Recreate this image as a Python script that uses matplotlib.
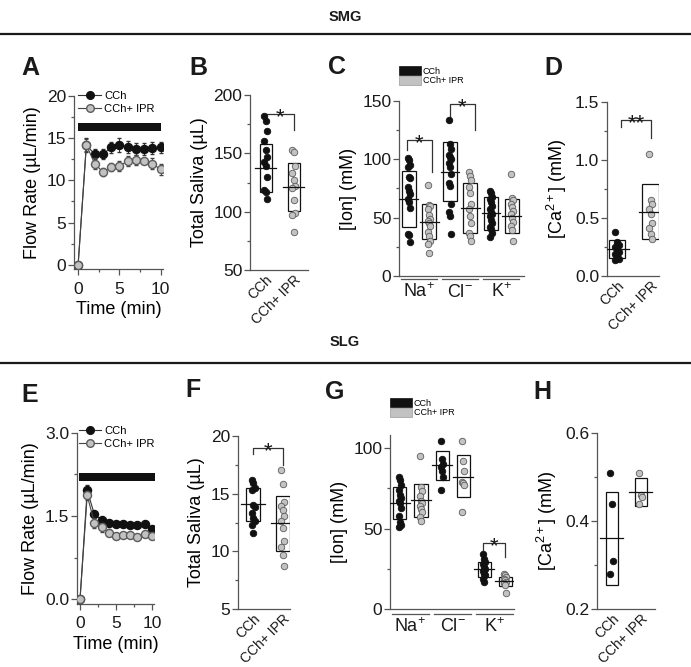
import matplotlib.pyplot as plt
from matplotlib.lines import Line2D
from matplotlib.patches import Patch
from matplotlib.ticker import MultipleLocator

plt.rcParams['font.family'] = ['Liberation Sans', 'DejaVu Sans']
plt.rcParams['mathtext.fontset'] = 'custom'
plt.rcParams['mathtext.rm'] = 'Liberation Sans'
plt.rcParams['mathtext.it'] = 'Liberation Sans:italic'
plt.rcParams['mathtext.bf'] = 'Liberation Sans:bold'

W, H = 691, 667
DARK = '#111111'
LIGHT = '#c2c2c2'
RIM = '#5c5c5c'
AXIS = '#555555'
TEXT = '#1a1a1a'

groups = ['CCh', 'CCh+ IPR']
ions = ['Na$^{+}$', 'Cl$^{-}$', 'K$^{+}$']

# ---------------- SMG ----------------
time_min = [0, 1, 2, 3, 4, 5, 6, 7, 8, 9, 10]
smg_flow_cch = [0, 14.2, 13.1, 13.1, 13.9, 14.2, 14.0, 13.7, 13.7, 13.8, 13.9]
smg_flow_cch_err = [0, 0.8, 0.6, 0.6, 0.7, 0.8, 0.7, 0.7, 0.7, 0.7, 0.7]
smg_flow_ipr = [0, 14.2, 12.0, 11.0, 11.6, 11.7, 12.3, 12.4, 12.3, 12.0, 11.3]
smg_flow_ipr_err = [0, 0.7, 0.6, 0.5, 0.5, 0.6, 0.6, 0.6, 0.4, 0.6, 0.7]
smg_stim = [0, 10.1]

smg_saliva = [
    [182, 178, 169, 161, 153, 147, 143, 139, 130, 119, 117, 111],
    [153, 151, 139, 133, 127, 122, 120, 110, 99, 97, 83],
]
smg_saliva_lo = [117, 100.6]
smg_saliva_hi = [157.7, 141.4]
smg_saliva_mean = [137.6, 121]

# order: Na CCh, Na IPR, Cl CCh, Cl IPR, K CCh, K IPR
smg_ion = [
    [101, 99, 95, 93, 85, 84, 76, 73, 70, 66, 63, 58, 36, 35, 29],
    [78, 61, 60, 57, 52, 49, 47, 45, 43, 38, 34, 30, 27, 20],
    [134, 113, 109, 104, 102, 100, 97, 93, 87, 80, 77, 62, 55, 51, 36],
    [89, 86, 82, 76, 71, 62, 57, 51, 45, 37, 34, 30],
    [73, 71, 68, 66, 63, 60, 57, 55, 53, 51, 48, 45, 42, 40, 37, 33],
    [87, 67, 65, 62, 59, 56, 53, 50, 46, 43, 39, 30],
]
smg_ion_lo = [42.2, 31.4, 64.2, 36.5, 39.3, 37.0]
smg_ion_hi = [89.8, 61.3, 115.0, 80.0, 67.6, 66.0]
smg_ion_mean = [66.4, 46.5, 89.3, 58.5, 53.6, 51.6]

smg_ca = [
    [0.38, 0.29, 0.27, 0.25, 0.23, 0.21, 0.19, 0.17, 0.15, 0.14],
    [1.05, 0.65, 0.62, 0.58, 0.53, 0.46, 0.41, 0.36, 0.32],
]
smg_ca_lo = [0.152, 0.315]
smg_ca_hi = [0.31, 0.789]
smg_ca_mean = [0.229, 0.553]

# ---------------- SLG ----------------
slg_flow_cch = [0, 1.96, 1.53, 1.43, 1.38, 1.36, 1.35, 1.34, 1.33, 1.35, 1.26]
slg_flow_cch_err = [0, 0.10, 0.05, 0.04, 0.04, 0.04, 0.04, 0.04, 0.04, 0.04, 0.04]
slg_flow_ipr = [0, 1.87, 1.38, 1.30, 1.20, 1.14, 1.16, 1.16, 1.13, 1.18, 1.14]
slg_flow_ipr_err = [0, 0.08, 0.09, 0.08, 0.06, 0.05, 0.05, 0.05, 0.05, 0.05, 0.05]
slg_stim = [-0.1, 10.5]

slg_saliva = [
    [16.2, 15.9, 15.5, 15.3, 14.0, 13.8, 13.3, 12.9, 12.6, 12.3, 11.6],
    [17.0, 15.8, 14.3, 13.9, 13.6, 13.1, 12.6, 12.0, 10.9, 10.4, 9.7, 8.7],
]
slg_saliva_lo = [12.66, 10.07]
slg_saliva_hi = [15.45, 14.82]
slg_saliva_mean = [14.07, 12.43]

slg_ion = [
    [82, 80, 77, 74, 71, 69, 67, 66, 63, 58, 54, 52, 51],
    [95, 76, 73, 70, 67, 66, 64, 62, 60, 57, 55],
    [104, 93, 90, 88, 86, 82, 74],
    [104, 92, 86, 79, 78, 77, 60],
    [34, 31, 29, 28, 26, 25, 24, 22, 21, 19, 17],
    [22, 21, 20, 19, 18, 17, 16, 15, 10],
]
slg_ion_lo = [55.7, 57.3, 80.0, 69.3, 19.8, 14.4]
slg_ion_hi = [75.9, 77.5, 98.1, 95.5, 29.1, 20.2]
slg_ion_mean = [65.6, 67.6, 89.3, 82.0, 24.7, 17.5]

slg_ca = [
    [0.51, 0.44, 0.31, 0.28],
    [0.51, 0.46, 0.455, 0.44],
]
slg_ca_lo = [0.255, 0.435]
slg_ca_hi = [0.467, 0.499]
slg_ca_mean = [0.361, 0.466]


def px_axes(fig, left, top, right, bottom):
    return fig.add_axes([left / W, 1 - bottom / H, (right - left) / W, (bottom - top) / H])


def style(ax, major, minor):
    for s in ['top', 'right']:
        ax.spines[s].set_visible(False)
    for s in ['left', 'bottom']:
        ax.spines[s].set_color(AXIS)
        ax.spines[s].set_linewidth(0.9)
    ax.yaxis.set_major_locator(MultipleLocator(major))
    ax.yaxis.set_minor_locator(MultipleLocator(minor))
    ax.tick_params(direction='out', length=4, width=0.9, color=AXIS,
                   labelsize=12.5, labelcolor=TEXT, pad=1.5)
    ax.tick_params(which='minor', length=2.5, width=0.9, color=AXIS)


def time_panel(ax, cch, cch_err, ipr, ipr_err, stim, bar_lo, bar_hi, legend_anchor):
    ax.errorbar(time_min, cch, yerr=cch_err, fmt='-o', color='#333333', mfc=DARK, mec=DARK,
                ms=5.8, lw=0.8, elinewidth=0.7, capsize=1.5, zorder=3)
    ax.errorbar(time_min, ipr, yerr=ipr_err, fmt='-o', color='#444444', mfc=LIGHT, mec=RIM,
                ms=5.8, lw=0.8, elinewidth=0.7, capsize=1.5, zorder=4)
    ax.fill_between(stim, bar_lo, bar_hi, color=DARK, lw=0, zorder=2)
    ax.xaxis.set_major_locator(MultipleLocator(5))
    ax.xaxis.set_minor_locator(MultipleLocator(2.5))
    ax.tick_params(axis='x', pad=5)
    ax.set_xlabel('Time (min)', fontsize=13, labelpad=3)
    ax.set_ylabel('Flow Rate (µL/min)', fontsize=13)
    handles = [Line2D([], [], color='#333333', marker='o', mfc=DARK, mec=DARK, ms=5.5, lw=0.8),
               Line2D([], [], color='#444444', marker='o', mfc=LIGHT, mec=RIM, ms=5.5, lw=0.8)]
    ax.legend(handles, groups, loc='upper left', bbox_to_anchor=legend_anchor, frameon=False,
              fontsize=8, handlelength=2.0, handletextpad=0.3, borderpad=0, borderaxespad=0,
              labelspacing=0.25)


def dot_panel(ax, pos, dots, lo, hi, mean, box_w, line_w):
    for i, (p, vals, a, b, m) in enumerate(zip(pos, dots, lo, hi, mean)):
        fc, ec = (DARK, DARK) if i % 2 == 0 else (LIGHT, RIM)
        ax.bar(p, b - a, bottom=a, width=box_w, fill=False, edgecolor=DARK, linewidth=0.9, zorder=2)
        ax.plot([p - line_w / 2, p + line_w / 2], [m, m], color=DARK, lw=0.9, zorder=4)
        offs = [((j % 3) - 1) * 0.05 for j in range(len(vals))]
        ax.scatter([p + o for o in offs], vals, s=22, color=fc, edgecolors=ec,
                   linewidths=0.6, zorder=3)


def bracket(ax, x0, x1, top, left_end, right_end, mark):
    ax.plot([x0, x0, x1, x1], [left_end, top, top, right_end], color='#333333', lw=0.9)
    ax.annotate(mark, xy=((x0 + x1) / 2, top), xytext=(0, -6.5), textcoords='offset points',
                ha='center', va='baseline', fontsize=16, color=TEXT)


def group_ticks(ax, labels):
    ax.set_xticks([0, 1])
    ax.set_xticklabels(labels, rotation=45, ha='right', rotation_mode='anchor', fontsize=10)
    ax.tick_params(axis='x', length=0, pad=2)


def ion_axis(ax, line_y, text_y):
    ax.set_xticks([])
    tr = ax.get_xaxis_transform()
    for k, lab in enumerate(ions):
        c = 2 * k + 0.5
        ax.plot([c - 0.88, c + 0.88], [line_y, line_y], transform=tr, clip_on=False,
                color=AXIS, lw=0.9)
        ax.text(c, text_y, lab, transform=tr, ha='center', va='center', fontsize=13, color=TEXT)
    ax.set_ylabel('[Ion] (mM)', fontsize=13)
    handles = [Patch(facecolor=DARK, edgecolor=DARK, lw=0.5),
               Patch(facecolor=LIGHT, edgecolor='#9a9a9a', lw=0.5)]
    return handles


ion_pos = [0, 1, 2, 3, 4, 5]

fig = plt.figure(figsize=(W / 100, H / 100), dpi=100)

# header bars
for y, title in [(17, 'SMG'), (342, 'SLG')]:
    fig.text(345 / W, 1 - y / H, title, ha='center', va='center', fontsize=10.5,
             fontweight='bold', color=TEXT)
for y in [34, 363]:
    fig.add_artist(Line2D([0, 1], [1 - y / H, 1 - y / H], color='#1a1a1a', lw=1.6))

for x, y, letter in [(30, 68, 'A'), (198, 68, 'B'), (337, 67, 'C'), (553, 68, 'D'),
                     (30, 395, 'E'), (193, 390, 'F'), (335, 392, 'G'), (542, 392, 'H')]:
    fig.text(x / W, 1 - y / H, letter, ha='center', va='center', fontsize=18,
             fontweight='bold', color=TEXT)

# A
ax = px_axes(fig, 74, 96, 163, 269)
style(ax, 5, 2.5)
time_panel(ax, smg_flow_cch, smg_flow_cch_err, smg_flow_ipr, smg_flow_ipr_err,
           smg_stim, 15.8, 16.8, (0.05, 1.03))
ax.set_xlim(-0.5, 10.3)
ax.set_ylim(-0.5, 20)

# B
ax = px_axes(fig, 250, 95, 308, 270)
style(ax, 50, 25)
dot_panel(ax, [0, 1], smg_saliva, smg_saliva_lo, smg_saliva_hi, smg_saliva_mean, 0.42, 0.75)
bracket(ax, 0, 1, 184, 178, 170, '*')
group_ticks(ax, groups)
ax.set_xlim(-0.55, 1.5)
ax.set_ylim(50, 200)
ax.set_ylabel('Total Saliva (µL)', fontsize=13)

# C
ax = px_axes(fig, 399, 101, 524, 276)
style(ax, 50, 25)
dot_panel(ax, ion_pos, smg_ion, smg_ion_lo, smg_ion_hi, smg_ion_mean, 0.68, 0.9)
bracket(ax, -0.1, 1.15, 116.3, 108, 89, '*')
bracket(ax, 2.0, 3.2, 147.7, 136, 125.5, '*')
h = ion_axis(ax, -0.017, -0.092)
ax.legend(h, groups, loc='upper left', bbox_to_anchor=(0.0, 1.2), frameon=False, fontsize=6.5,
          handlelength=2.4, handleheight=1.2, handletextpad=0.25, labelspacing=0.0,
          borderpad=0, borderaxespad=0)
ax.set_xlim(-0.47, 5.6)
ax.set_ylim(0, 150)

# D
ax = px_axes(fig, 607, 101.7, 659, 276)
style(ax, 0.5, 0.25)
dot_panel(ax, [0, 1], smg_ca, smg_ca_lo, smg_ca_hi, smg_ca_mean, 0.5, 0.72)
bracket(ax, 0.13, 1.0, 1.342, 1.28, 1.19, '**')
group_ticks(ax, groups)
ax.yaxis.set_major_formatter(plt.FormatStrFormatter('%.1f'))
ax.set_xlim(-0.3, 1.25)
ax.set_ylim(0, 1.5)
ax.set_ylabel('[Ca$^{2+}$] (mM)', fontsize=13)

# E
ax = px_axes(fig, 77, 432.7, 154, 604)
style(ax, 1.5, 0.75)
time_panel(ax, slg_flow_cch, slg_flow_cch_err, slg_flow_ipr, slg_flow_ipr_err,
           slg_stim, 2.125, 2.27, (0.02, 1.04))
ax.yaxis.set_major_formatter(plt.FormatStrFormatter('%.1f'))
ax.set_xlim(-0.42, 10.3)
ax.set_ylim(-0.085, 3.0)

# F
ax = px_axes(fig, 238, 435.7, 290, 609.3)
style(ax, 5, 2.5)
dot_panel(ax, [0, 1], slg_saliva, slg_saliva_lo, slg_saliva_hi, slg_saliva_mean, 0.48, 0.82)
bracket(ax, 0, 1, 18.9, 18.4, 17.47, '*')
group_ticks(ax, groups)
ax.set_xlim(-0.51, 1.25)
ax.set_ylim(5, 20)
ax.set_ylabel('Total Saliva (µL)', fontsize=13)

# G
ax = px_axes(fig, 390, 435, 514, 609.3)
style(ax, 50, 25)
dot_panel(ax, ion_pos, slg_ion, slg_ion_lo, slg_ion_hi, slg_ion_mean, 0.62, 0.95)
bracket(ax, 3.92, 4.97, 40.8, 36.7, 32.6, '*')
h = ion_axis(ax, -0.029, -0.1)
ax.legend(h, groups, loc='upper left', bbox_to_anchor=(0.0, 1.212), frameon=False, fontsize=6.5,
          handlelength=2.4, handleheight=1.2, handletextpad=0.25, labelspacing=0.0,
          borderpad=0, borderaxespad=0)
ax.set_xlim(-0.47, 5.41)
ax.set_ylim(0, 108)

# H
ax = px_axes(fig, 596.7, 433.3, 655, 609)
style(ax, 0.2, 0.1)
dot_panel(ax, [0, 1], slg_ca, slg_ca_lo, slg_ca_hi, slg_ca_mean, 0.4, 0.78)
group_ticks(ax, groups)
ax.yaxis.set_major_formatter(plt.FormatStrFormatter('%.1f'))
ax.set_xlim(-0.52, 1.49)
ax.set_ylim(0.2, 0.6)
ax.set_ylabel('[Ca$^{2+}$] (mM)', fontsize=13)

fig.savefig('out.png', dpi=100)
